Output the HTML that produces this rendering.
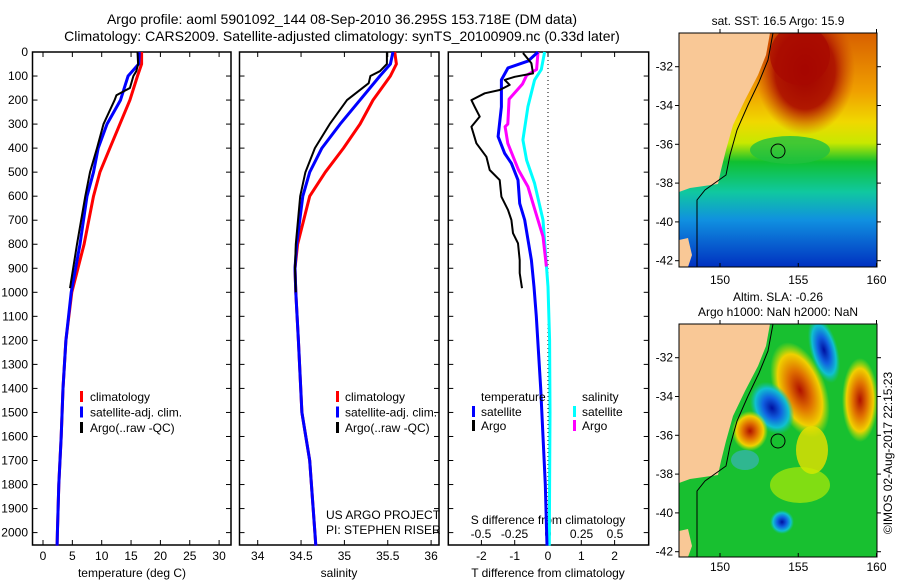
<!DOCTYPE html>
<html><head><meta charset="utf-8"><style>
body{margin:0;background:#fff;}
svg{display:block;font-family:"Liberation Sans",sans-serif;}
</style></head><body>
<svg id="fig" width="900" height="580" viewBox="0 0 900 580">
<text x="342" y="24" font-size="14" text-anchor="middle">Argo profile: aoml 5901092_144 08-Sep-2010 36.295S 153.718E (DM data)</text>
<text x="342" y="41" font-size="14" text-anchor="middle">Climatology: CARS2009. Satellite-adjusted climatology: synTS_20100909.nc (0.33d later)</text>
<g id="p1"></g>
<g id="p2"></g>
<g id="p3"></g>

<defs>
<linearGradient id="sstg" x1="0" y1="0" x2="0" y2="1">
<stop offset="0" stop-color="#d86000"/><stop offset="0.25" stop-color="#f0a000"/><stop offset="0.38" stop-color="#f0d800"/><stop offset="0.47" stop-color="#c8e800"/><stop offset="0.55" stop-color="#10c030"/><stop offset="0.68" stop-color="#10c8a0"/><stop offset="0.8" stop-color="#1090e0"/><stop offset="1" stop-color="#0030c0"/>
</linearGradient>
<clipPath id="c1"><rect x="679" y="33" width="198" height="234"/></clipPath>
<clipPath id="c2"><rect x="679" y="324" width="198" height="233"/></clipPath>
<radialGradient id="rb"><stop offset="0" stop-color="#a00000"/><stop offset="0.6" stop-color="#b01800"/><stop offset="1" stop-color="#c84000" stop-opacity="0"/></radialGradient>
<radialGradient id="org"><stop offset="0" stop-color="#b01000"/><stop offset="0.4" stop-color="#e07000"/><stop offset="0.75" stop-color="#f0d000"/><stop offset="1" stop-color="#c0e800" stop-opacity="0"/></radialGradient>
<radialGradient id="blu"><stop offset="0" stop-color="#0010a0"/><stop offset="0.4" stop-color="#1060e0"/><stop offset="0.75" stop-color="#10c0d0"/><stop offset="1" stop-color="#10c0a0" stop-opacity="0"/></radialGradient>
</defs>
<g clip-path="url(#c1)">
<rect x="679" y="33" width="198" height="234" fill="url(#sstg)"/>
<ellipse cx="805" cy="70" rx="50" ry="65" fill="url(#rb)"/>
<ellipse cx="800" cy="55" rx="30" ry="30" fill="#a80800" opacity="0.7"/>
<ellipse cx="790" cy="150" rx="40" ry="14" fill="#20c040" opacity="0.8"/>
<polygon points="679,33 770,33 766,55 758,75 745,100 733,125 726,150 721,170 718,184 690,188 679,192" fill="#f9c896"/>
<polygon points="679,240 688,238 692,255 688,267 679,267" fill="#f9c896"/>
<polyline points="773,33 768,60 759,82 748,105 737,130 730,155 726,175 705,190 697,200 697,267" fill="none" stroke="#000" stroke-width="1"/>
<circle cx="778" cy="151" r="7" fill="none" stroke="#000" stroke-width="1"/>
</g>
<rect x="679" y="33" width="198" height="234" fill="none" stroke="#000"/>
<text x="778" y="25" font-size="12" text-anchor="middle">sat. SST: 16.5 Argo: 15.9</text>

<g clip-path="url(#c2)">
<rect x="679" y="324" width="198" height="233" fill="#18c030"/>
<ellipse cx="800" cy="390" rx="26" ry="50" fill="url(#org)" transform="rotate(-20 800 390)"/>
<ellipse cx="824" cy="350" rx="14" ry="34" fill="url(#blu)" transform="rotate(-15 824 350)"/>
<ellipse cx="772" cy="408" rx="20" ry="28" fill="url(#blu)" transform="rotate(-30 772 408)"/>
<ellipse cx="750" cy="431" rx="18" ry="20" fill="url(#org)"/>
<ellipse cx="860" cy="400" rx="18" ry="42" fill="url(#org)"/>
<ellipse cx="812" cy="450" rx="16" ry="24" fill="#e8e000" opacity="0.8"/>
<ellipse cx="800" cy="485" rx="30" ry="18" fill="#c8f000" opacity="0.6"/>
<ellipse cx="782" cy="522" rx="12" ry="12" fill="url(#blu)"/>
<ellipse cx="745" cy="460" rx="14" ry="10" fill="#40b0d0" opacity="0.6"/>
<polygon points="679,324 770,324 766,346 758,366 745,391 733,416 726,441 721,461 718,475 690,479 679,483" fill="#f9c896"/>
<polygon points="679,531 688,529 692,546 688,557 679,557" fill="#f9c896"/>
<polyline points="773,324 768,351 759,373 748,396 737,421 730,446 726,466 705,481 697,491 697,557" fill="none" stroke="#000" stroke-width="1"/>
<circle cx="778" cy="441" r="7" fill="none" stroke="#000" stroke-width="1"/>
</g>
<rect x="679" y="324" width="198" height="233" fill="none" stroke="#000"/>
<text x="778" y="301" font-size="12" text-anchor="middle">Altim. SLA: -0.26</text>
<text x="778" y="316" font-size="12" text-anchor="middle">Argo h1000: NaN h2000: NaN</text>
<text x="0" y="0" font-size="12" text-anchor="middle" transform="translate(892,453) rotate(-90)">©IMOS 02-Aug-2017 22:15:23</text>
<g id="maptix"></g>
</svg>
<script>
const tDepthClim = [0,50,100,200,300,400,500,600,800,1000,1200,1400,1600,1800,2000,2054];
const tempClim = [16.8,16.8,16.1,14.8,13.1,11.4,9.7,8.6,7.0,4.9,3.9,3.4,3.1,2.7,2.45,2.4];
const tempSat = [16.4,16.3,14.5,13.2,10.9,9.4,8.6,7.5,6.3,4.8,3.9,3.4,3.1,2.7,2.45,2.4];
const tDepthArgo = [0,50,80,100,150,180,200,300,400,500,600,800,983];
const tempArgo = [16.1,16.2,15.9,15.4,14.8,12.5,12.2,10.3,9.2,8.0,7.2,5.8,4.6];
const sDepthClim = [0,50,100,200,300,400,500,600,800,900,1000,1200,1500,1700,2000,2054];
const salClim = [35.58,35.6,35.53,35.33,35.18,34.99,34.78,34.6,34.46,34.43,34.44,34.47,34.51,34.6,34.66,34.67];
const salSat = [35.56,35.53,35.41,35.18,34.95,34.74,34.6,34.52,34.45,34.43,34.44,34.47,34.51,34.6,34.66,34.67];
const sDepthArgo = [0,50,80,100,130,200,300,400,500,600,800,900,1000];
const salArgo = [35.49,35.49,35.41,35.3,35.28,35.03,34.83,34.66,34.55,34.49,34.44,34.43,34.44];
const dDepthSatT = [0,38,66,116,228,352,422,463,533,630,699,782,866,977,1100,1400,1600,1800,2054];
const dTSat = [-0.3,-0.6,-1.2,-1.4,-1.4,-1.5,-1.3,-1.1,-0.9,-0.85,-0.7,-0.6,-0.5,-0.42,-0.35,-0.22,-0.15,-0.08,-0.03];
const dDepthArgoT = [4,47,89,103,116,137,158,172,200,228,269,311,380,436,491,533,602,657,699,754,796,866,920,983];
const dTArgo = [-0.75,-0.5,-0.45,-1.0,-1.3,-1.15,-1.45,-1.9,-2.3,-2.2,-2.05,-2.3,-2.15,-1.85,-1.75,-1.45,-1.4,-1.2,-1.1,-1.05,-0.9,-0.85,-0.85,-0.78];
const dDepthSatS = [0,73,116,228,366,450,547,699,977,1200,1500,1800,2054];
const dSSat = [-0.025,-0.05,-0.1,-0.15,-0.187,-0.16,-0.1,-0.037,0,0.012,0.015,0.012,0.01];
const dDepthArgoS = [0,73,97,133,196,300,311,380,491,560,671,768,893];
const dSArgo = [-0.075,-0.085,-0.16,-0.19,-0.29,-0.3,-0.32,-0.3,-0.22,-0.15,-0.09,-0.037,-0.012];
const depthTicks = [0,100,200,300,400,500,600,700,800,900,1000,1100,1200,1300,1400,1500,1600,1700,1800,1900,2000];
const tTicks = [0,5,10,15,20,25,30];
const sTicks = [34,34.5,35,35.5,36];
const dtTicks = [-2,-1,0,1,2];
const dsTicks = [-0.5,-0.25,0,0.25,0.5];
const lonTicks = [150,155,160];
const latTicks = [-32,-34,-36,-38,-40,-42];

const NS='http://www.w3.org/2000/svg';
function mk(tag,attrs,parent,txt){const e=document.createElementNS(NS,tag);for(const k in attrs)e.setAttribute(k,attrs[k]);if(txt!==undefined)e.textContent=txt;parent.appendChild(e);return e;}
const Y = d => 52 + d*0.2403;
const TOP=52, BOT=545;
function frame(g,x0,x1,name){
  const r=mk('rect',{x:x0,y:TOP,width:x1-x0,height:BOT-TOP,fill:'none',stroke:'#000','stroke-width':1.5},g);
  
  
  depthTicks.forEach(d=>{mk('line',{x1:x0,x2:x0+5,y1:Y(d),y2:Y(d),stroke:'#000'},g);mk('line',{x1:x1-5,x2:x1,y1:Y(d),y2:Y(d),stroke:'#000'},g);});
}
function series(g,xs,ds,fx,color,w,name){
  const pts=xs.map((v,i)=>fx(v).toFixed(1)+','+Y(ds[i]).toFixed(1)).join(' ');
  const p=mk('polyline',{points:pts,fill:'none',stroke:color,'stroke-width':w,'stroke-linejoin':'round'},g);
  
  
}
function label(g,x,y,t,anchor,size,name){
  const e=mk('text',{x:x,y:y,'font-size':size||12,'text-anchor':anchor||'middle'},g,t);
  
  
}
function xticks(g,ticks,fx,y,fmt,name){
  ticks.forEach(t=>{const x=fx(t);mk('line',{x1:x,x2:x,y1:BOT-5,y2:BOT,stroke:'#000'},g);mk('line',{x1:x,x2:x,y1:TOP,y2:TOP+5,stroke:'#000'},g);label(g,x,y,fmt?fmt(t):String(t),'middle',12,name);});
}
function legBar(g,x,y,color){const b=mk('rect',{x:x,y:y-10,width:3,height:11,fill:color},g);}

const g1=document.getElementById('p1');
const fT=t=>43+5.87*t;
frame(g1,32.5,231,'temperature-frame');
depthTicks.forEach(d=>label(g1,28,Y(d)+4,String(d),'end',12,'depth-tick-label'));
xticks(g1,tTicks,fT,560,null,'temperature-tick-label');
label(g1,132,577,'temperature (deg C)','middle',12,'temperature-axis-title');
series(g1,tempClim,tDepthClim,fT,'#f00',3,'temp-climatology-line');
series(g1,tempSat,tDepthClim,fT,'#00f',3,'temp-satellite-line');
series(g1,tempArgo,tDepthArgo,fT,'#000',2,'temp-argo-line');
[['climatology','#f00'],['satellite-adj. clim.','#00f'],['Argo(..raw -QC)','#000']].forEach((l,i)=>{legBar(g1,80,401+i*15.5,l[1]);label(g1,90,401+i*15.5,l[0],'start',12,'legend-entry');});

const g2=document.getElementById('p2');
const fS=s=>257.7+86.7*(s-34);
frame(g2,239.5,439,'salinity-frame');
xticks(g2,sTicks,fS,560,null,'salinity-tick-label');
label(g2,339,577,'salinity','middle',12,'salinity-axis-title');
series(g2,salClim,sDepthClim,fS,'#f00',3,'sal-climatology-line');
series(g2,salSat,sDepthClim,fS,'#00f',3,'sal-satellite-line');
series(g2,salArgo,sDepthArgo,fS,'#000',2,'sal-argo-line');
[['climatology','#f00'],['satellite-adj. clim.','#00f'],['Argo(..raw -QC)','#000']].forEach((l,i)=>{legBar(g2,336,401+i*15.5,l[1]);label(g2,345,401+i*15.5,l[0],'start',12,'legend-entry');});
label(g2,326,519,'US ARGO PROJECT','start',12,'project-label');
label(g2,326,534,'PI: STEPHEN RISER','start',12,'pi-label');

const g3=document.getElementById('p3');
const fdT=t=>548+33.3*t, fdS=s=>548+134*s;
frame(g3,448.3,648.7,'difference-frame');
mk('line',{x1:548,x2:548,y1:TOP,y2:BOT,stroke:'#000','stroke-dasharray':'1,3'},g3);
xticks(g3,dtTicks,fdT,560,null,'t-diff-tick-label');
dsTicks.forEach(s=>label(g3,fdS(s),538,String(s),'middle',12,'s-diff-tick-label'));
label(g3,548,524,'S difference from climatology','middle',12,'s-diff-axis-title');
label(g3,548,577,'T difference from climatology','middle',12,'t-diff-axis-title');
series(g3,dSSat,dDepthSatS,fdS,'#0ff',3,'sdiff-satellite-line');
series(g3,dSArgo,dDepthArgoS,fdS,'#f0f',3,'sdiff-argo-line');
series(g3,dTSat,dDepthSatT,fdT,'#00f',3,'tdiff-satellite-line');
series(g3,dTArgo,dDepthArgoT,fdT,'#000',2,'tdiff-argo-line');
label(g3,481,401,'temperature','start',12,'legend-title-temperature');
label(g3,582,401,'salinity','start',12,'legend-title-salinity');
legBar(g3,472,416,'#00f');label(g3,481,416,'satellite','start',12,'legend-entry');
legBar(g3,472,430,'#000');label(g3,481,430,'Argo','start',12,'legend-entry');
legBar(g3,573,416,'#0ff');label(g3,582,416,'satellite','start',12,'legend-entry');
legBar(g3,573,430,'#f0f');label(g3,582,430,'Argo','start',12,'legend-entry');

const gm=document.getElementById('maptix');
const fLon=l=>720+(l-150)*15.65;
[[33,267,284],[324,557,571]].forEach(m=>{
  const fLat=la=>m[0]+33.7+(-32-la)*19.4;
  lonTicks.forEach(l=>{const x=fLon(l);mk('line',{x1:x,x2:x,y1:m[1]-4,y2:m[1],stroke:'#000'},gm);mk('line',{x1:x,x2:x,y1:m[0],y2:m[0]-4,stroke:'#000'},gm);label(gm,x,m[2],String(l),'middle',12,'lon-tick-label');});
  latTicks.forEach(la=>{const y=fLat(la);mk('line',{x1:675,x2:679,y1:y,y2:y,stroke:'#000'},gm);mk('line',{x1:877,x2:881,y1:y,y2:y,stroke:'#000'},gm);label(gm,673,y+4,String(la),'end',12,'lat-tick-label');});
});
</script>
</body></html>
